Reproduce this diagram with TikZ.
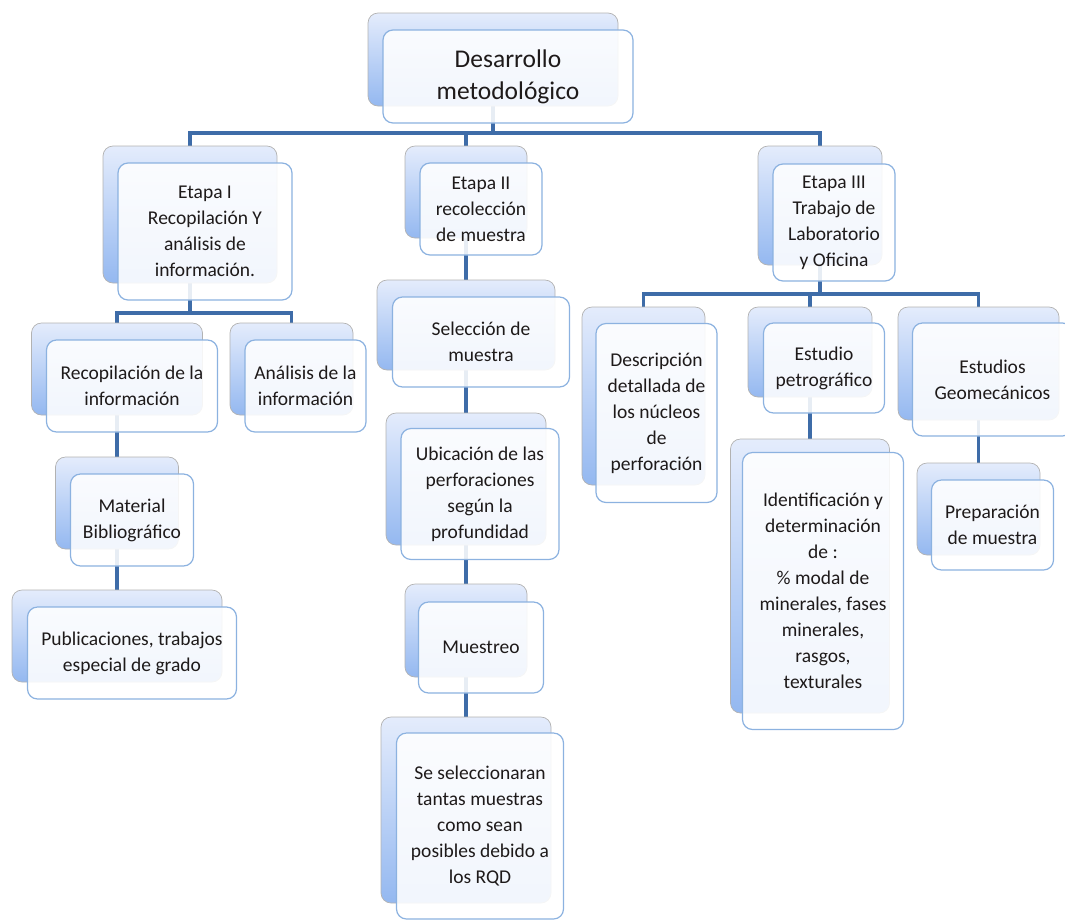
\documentclass[tikz,border=0pt]{standalone}
\usepackage{fontspec}
\setmainfont{Carlito}
\usetikzlibrary{positioning,backgrounds}

\definecolor{azulconector}{RGB}{62,108,168}
\definecolor{azulclaro}{RGB}{228,236,252}
\definecolor{azulfuerte}{RGB}{148,184,240}
\definecolor{bordefrente}{RGB}{140,178,224}
\definecolor{textocaja}{RGB}{30,26,26}

\begin{document}
\begin{tikzpicture}[x=1pt,y=-1pt,
  atras/.style={draw=gray!60,line width=0.7pt,rounded corners=10pt,
    top color=azulclaro,bottom color=azulfuerte,inner sep=0pt},
  frente/.style={draw=bordefrente,line width=1.2pt,rounded corners=10pt,
    fill=white,fill opacity=0.88,text opacity=1,text=textocaja,
    align=center,inner sep=0pt,font=\fontsize{19.5}{26}\selectfont},
  tam/.style 2 args={minimum width=#1pt,minimum height=#2pt},
  conector/.style={draw=azulconector,line width=3.2pt}]
  \useasboundingbox (0,0) rectangle (1065,919);

  %--- Raiz -------------------------------------------------------------------
  \node[atras,tam={250}{93}] (titulo) at (493,59.5) {};
  \node[frente,tam={250}{93},font=\fontsize{25.5}{32}\selectfont] (titulo-f)
       at ([shift={(15,17)}]titulo.center) {Desarrollo\\metodológico};

  %--- Etapas -----------------------------------------------------------------
  \node[atras,tam={174}{137}] (etapa1) at (190,214.5) {};
  \node[frente,tam={174}{137}] (etapa1-f) at ([shift={(15,17)}]etapa1.center)
       {Etapa I\\Recopilación Y\\análisis de\\información.};

  \node[atras,tam={122}{92}] (etapa2) at (466,192) {};
  \node[frente,tam={122}{92}] (etapa2-f) at ([shift={(15,17)}]etapa2.center)
       {Etapa II\\recolección\\de muestra};

  \node[atras,tam={124}{119}] (etapa3) at (820,205.5) {};
  \node[frente,tam={122}{117}] (etapa3-f) at ([shift={(14,17)}]etapa3.center)
       {Etapa III\\Trabajo de\\Laboratorio\\y Oficina};

  %--- Etapa I ----------------------------------------------------------------
  \node[atras,tam={171}{92}] (recopilacion) at (117,369) {};
  \node[frente,tam={171}{92}] (recopilacion-f) at ([shift={(15,17)}]recopilacion.center)
       {Recopilación de la\\información};

  \node[atras,tam={123}{92}] (analisis) at (291.5,369) {};
  \node[frente,tam={121}{92}] (analisis-f) at ([shift={(14,17)}]analisis.center)
       {Análisis de la\\información};

  \node[atras,tam={123}{92}] (material) at (117,503) {};
  \node[frente,tam={123}{92}] (material-f) at ([shift={(15,17)}]material.center)
       {Material\\Bibliográfico};

  \node[atras,tam={210}{92}] (publicaciones) at (117,636) {};
  \node[frente,tam={209}{92}] (publicaciones-f) at ([shift={(15,17)}]publicaciones.center)
       {Publicaciones, trabajos\\especial de grado};

  %--- Etapa II ---------------------------------------------------------------
  \node[atras,tam={178}{90}] (seleccion) at (466,325) {};
  \node[frente,tam={177}{90}] (seleccion-f) at ([shift={(15,17)}]seleccion.center)
       {Selección de\\muestra};

  \node[atras,tam={160}{132}] (ubicacion) at (466,479) {};
  \node[frente,tam={158}{131}] (ubicacion-f) at ([shift={(14,15)}]ubicacion.center)
       {Ubicación de las\\perforaciones\\según la\\profundidad};

  \node[atras,tam={122}{93}] (muestreo) at (466,630.5) {};
  \node[frente,tam={125}{91}] (muestreo-f) at ([shift={(15,17)}]muestreo.center)
       {Muestreo};

  \node[atras,tam={170}{186}] (seleccionaran) at (466,810) {};
  \node[frente,tam={167}{186}] (seleccionaran-f) at ([shift={(14,16)}]seleccionaran.center)
       {Se seleccionaran\\tantas muestras\\como sean\\posibles debido a\\los RQD};

  %--- Etapa III --------------------------------------------------------------
  \node[atras,tam={123}{178}] (descripcion) at (643.5,396) {};
  \node[frente,tam={121}{179}] (descripcion-f) at ([shift={(13,17)}]descripcion.center)
       {Descripción\\detallada de\\los núcleos\\de\\perforación};

  \node[atras,tam={124}{90}] (petrografico) at (810,352) {};
  \node[frente,tam={121}{90}] (petrografico-f) at ([shift={(14,16)}]petrografico.center)
       {Estudio\\petrográfico};

  \node[atras,tam={161}{113}] (geomecanicos) at (978.5,363.5) {};
  \node[frente,tam={160}{113}] (geomecanicos-f) at ([shift={(14,16)}]geomecanicos.center)
       {Estudios\\Geomecánicos};

  \node[atras,tam={159}{274}] (identificacion) at (810,576) {};
  \node[frente,tam={161}{277}] (identificacion-f) at ([shift={(13,15)}]identificacion.center)
       {Identificación y\\determinación\\de :\\\% modal de\\minerales, fases\\minerales,\\rasgos,\\texturales};

  \node[atras,tam={123}{92}] (preparacion) at (978.5,509) {};
  \node[frente,tam={122}{90}] (preparacion-f) at ([shift={(14,16)}]preparacion.center)
       {Preparación\\de muestra};

  %--- Conectores -------------------------------------------------------------
  \coordinate (bar1) at (0,133);
  \coordinate (bar2) at (0,313);
  \coordinate (bar3) at (0,294);
  \begin{scope}[on background layer]
    \foreach \h in {etapa1,etapa2,etapa3}
      \draw[conector] (titulo.south) |- (bar1 -| \h.north) -- (\h.north);
    \foreach \h in {recopilacion,analisis}
      \draw[conector] (etapa1.south) |- (bar2 -| \h.north) -- (\h.north);
    \foreach \h in {descripcion,petrografico,geomecanicos}
      \draw[conector] (etapa3.south) |- (bar3 -| \h.north) -- (\h.north);
    \draw[conector] (recopilacion.south) -- (material.north);
    \draw[conector] (material.south) -- (publicaciones.north);
    \draw[conector] (etapa2.south) -- (seleccion.north);
    \draw[conector] (seleccion.south) -- (ubicacion.north);
    \draw[conector] (ubicacion.south) -- (muestreo.north);
    \draw[conector] (muestreo.south) -- (seleccionaran.north);
    \draw[conector] (petrografico.south) -- (identificacion.north);
    \draw[conector] (geomecanicos.south) -- (preparacion.north);
  \end{scope}
\end{tikzpicture}
\end{document}
